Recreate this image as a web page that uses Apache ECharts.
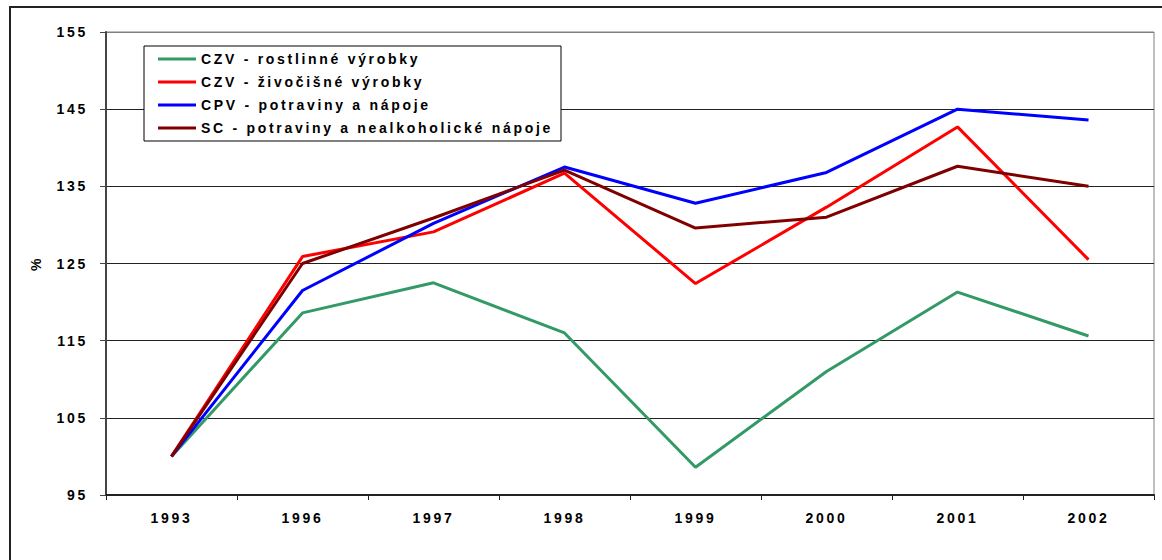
<!DOCTYPE html>
<html>
<head>
<meta charset="utf-8">
<style>
html,body{margin:0;padding:0;background:#fff;}
#chart{width:1162px;height:560px;}
#chart svg text{letter-spacing:2.7px;}
</style>
<script src="https://cdn.jsdelivr.net/npm/echarts@6/dist/echarts.min.js"></script>
</head>
<body>
<div id="chart"></div>
<script>
const categories = ['1993', '1996', '1997', '1998', '1999', '2000', '2001', '2002'];
const seriesNames = [
  'CZV - rostlinné výrobky',
  'CZV - živočišné výrobky',
  'CPV - potraviny a nápoje',
  'SC - potraviny a nealkoholické nápoje'
];
const czvRostlinne = [100, 118.6, 122.5, 116.0, 98.6, 111.0, 121.3, 115.6];
const czvZivocisne = [100, 125.9, 129.1, 136.7, 122.4, 132.3, 142.7, 125.5];
const cpvPotraviny = [100, 121.5, 130.2, 137.5, 132.8, 136.8, 145.0, 143.6];
const scPotraviny = [100, 125.0, 130.9, 137.1, 129.6, 131.0, 137.6, 135.0];
const yTicks = { min: 95, max: 155, interval: 10 };
const colors = ['#339966', '#FF0000', '#0000FF', '#800000'];

const font = '"Liberation Sans", Arial, sans-serif';
const chart = echarts.init(document.getElementById('chart'), null, { renderer: 'svg' });
const values = [czvRostlinne, czvZivocisne, cpvPotraviny, scPotraviny];

chart.setOption({
  animation: false,
  backgroundColor: '#fff',
  graphic: [{
    type: 'rect',
    shape: { x: 10, y: 7, width: 1200, height: 600 },
    style: { fill: 'none', stroke: '#222', lineWidth: 2 },
    silent: true,
    z: -10
  }],
  grid: {
    left: 106, right: 8, top: 32, bottom: 65,
    show: true, borderColor: '#808080', borderWidth: 1, backgroundColor: 'transparent'
  },
  legend: {
    orient: 'vertical',
    left: 144, top: 46,
    padding: [6, 8, 6, 14],
    borderColor: '#000', borderWidth: 1,
    backgroundColor: '#fff',
    itemGap: 9,
    itemWidth: 38, itemHeight: 3,
    icon: 'rect',
    textStyle: { fontFamily: font, fontWeight: 'bold', fontSize: 14, color: '#000', lineHeight: 14, width: 352 },
    data: seriesNames
  },
  xAxis: {
    type: 'category',
    data: categories,
    boundaryGap: true,
    axisLine: { lineStyle: { color: '#222', width: 2 } },
    axisTick: { show: true, length: 5, lineStyle: { color: '#222', width: 1 } },
    axisLabel: { fontFamily: font, fontWeight: 'bold', fontSize: 14, color: '#000', margin: 16 },
    splitLine: { show: false }
  },
  yAxis: {
    type: 'value',
    min: yTicks.min, max: yTicks.max, interval: yTicks.interval,
    name: '%',
    nameLocation: 'middle',
    nameRotate: 90,
    nameGap: 63,
    nameTextStyle: { fontFamily: font, fontWeight: 'bold', fontSize: 14, color: '#000' },
    axisLine: { show: true, lineStyle: { color: '#444', width: 2 } },
    axisTick: { show: true, length: 6, lineStyle: { color: '#444', width: 1 } },
    axisLabel: { fontFamily: font, fontWeight: 'bold', fontSize: 14, color: '#000', margin: 18 },
    splitLine: { show: true, lineStyle: { color: ['#222', '#222', '#222', '#222', '#222', '#222', '#808080'], width: 1 } }
  },
  series: seriesNames.map((name, i) => ({
    name: name,
    type: 'line',
    data: values[i],
    showSymbol: false,
    symbol: 'none',
    lineStyle: { color: colors[i], width: 3 },
    itemStyle: { color: colors[i] },
    z: 2 + i
  }))
});
</script>
</body>
</html>
